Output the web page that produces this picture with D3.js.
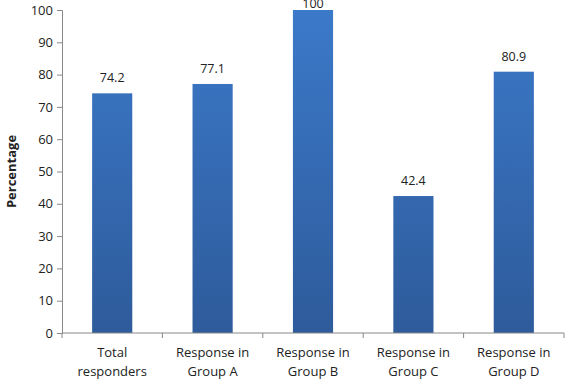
<!DOCTYPE html>
<html>
<head>
<meta charset="utf-8">
<script src="https://cdn.jsdelivr.net/npm/d3@7"></script>
<style>
  body { margin: 0; background: #fff; }
  svg text { font-family: "Open Sans", "Noto Sans", sans-serif; fill: #222; }
</style>
</head>
<body>
<svg id="chart" width="566" height="382"></svg>
<script>
// data ************************************************************
var categories = [
  ["Total", "responders"],
  ["Response in", "Group A"],
  ["Response in", "Group B"],
  ["Response in", "Group C"],
  ["Response in", "Group D"]
];
var values = [74.2, 77.1, 100, 42.4, 80.9];
var valueLabels = ["74.2", "77.1", "100", "42.4", "80.9"];
var yTicks = [0, 10, 20, 30, 40, 50, 60, 70, 80, 90, 100];

// layout ************************************************************
var plotLeft = 62, plotRight = 564, plotTop = 10, plotBottom = 333;
var svg = d3.select("#chart");

var x = d3.scaleBand()
  .domain(d3.range(values.length))
  .range([plotLeft, plotRight])
  .paddingInner(0.6)
  .paddingOuter(0.3);

var y = d3.scaleLinear().domain([0, 100]).range([plotBottom, plotTop]);

// gradient for bars
var defs = svg.append("defs");
var grad = defs.append("linearGradient")
  .attr("id", "barGrad")
  .attr("gradientUnits", "userSpaceOnUse")
  .attr("x1", 0).attr("y1", plotTop).attr("x2", 0).attr("y2", plotBottom);
grad.append("stop").attr("offset", "0%").attr("stop-color", "#3b79c9");
grad.append("stop").attr("offset", "100%").attr("stop-color", "#2e5b9b");

// bars ************************************************************
svg.selectAll(".bar")
  .data(values)
  .enter()
  .append("rect")
  .attr("class", "bar")
  .attr("x", function(d, i) { return x(i); })
  .attr("width", x.bandwidth())
  .attr("y", function(d) { return y(d); })
  .attr("height", function(d) { return plotBottom - y(d); })
  .attr("fill", "url(#barGrad)");

// value labels
svg.selectAll(".val")
  .data(values)
  .enter()
  .append("text")
  .attr("class", "val")
  .attr("x", function(d, i) { return x(i) + x.bandwidth() / 2; })
  .attr("y", function(d) { return Math.max(y(d) - 11, 8); })
  .attr("text-anchor", "middle")
  .style("font-size", "12.5px")
  .text(function(d, i) { return valueLabels[i]; });

// y axis ************************************************************
var yAxis = svg.append("g")
  .attr("transform", "translate(" + plotLeft + ",0)")
  .call(d3.axisLeft(y).tickValues(yTicks).tickSize(5).tickPadding(4));
yAxis.select(".domain").attr("stroke", "#888");
yAxis.selectAll(".tick line").attr("stroke", "#888");
yAxis.selectAll(".tick text")
  .style("font-size", "13px")
  .attr("fill", "#222");

// x axis
var xAxis = svg.append("g")
  .attr("transform", "translate(0," + plotBottom + ")");
xAxis.append("line")
  .attr("x1", plotLeft).attr("x2", plotRight)
  .attr("stroke", "#888");
var bounds = d3.range(values.length + 1).map(function(i) {
  return plotLeft + i * x.step();
});
xAxis.selectAll(".xt")
  .data(bounds)
  .enter()
  .append("line")
  .attr("x1", function(d) { return d; })
  .attr("x2", function(d) { return d; })
  .attr("y1", 0).attr("y2", 5)
  .attr("stroke", "#888");

var xl = xAxis.selectAll(".xl")
  .data(categories)
  .enter()
  .append("text")
  .attr("class", "xl")
  .attr("text-anchor", "middle")
  .attr("transform", function(d, i) {
    return "translate(" + (x(i) + x.bandwidth() / 2) + ",0)";
  })
  .style("font-size", "13px");
xl.append("tspan").attr("x", 0).attr("y", 24).text(function(d) { return d[0]; });
xl.append("tspan").attr("x", 0).attr("y", 43).text(function(d) { return d[1]; });

// axis title
svg.append("text")
  .attr("transform", "translate(16," + ((plotTop + plotBottom) / 2) + ") rotate(-90)")
  .attr("text-anchor", "middle")
  .style("font-size", "13px")
  .style("font-weight", "bold")
  .text("Percentage");
</script>
</body>
</html>
